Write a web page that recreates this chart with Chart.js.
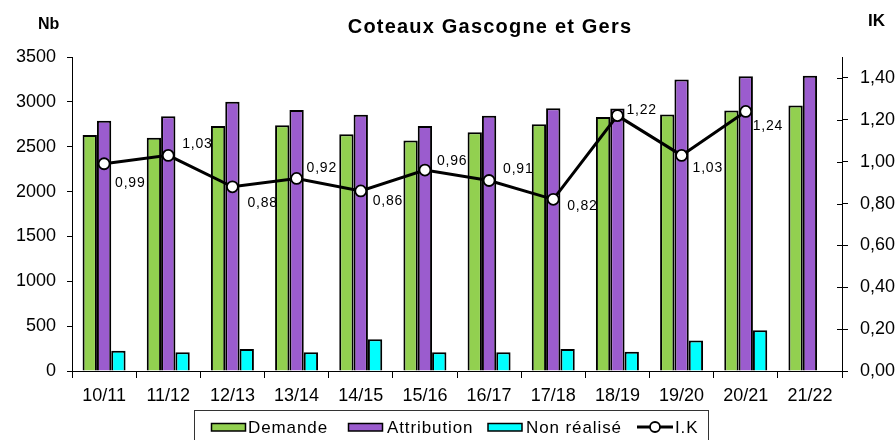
<!DOCTYPE html>
<html>
<head>
<meta charset="utf-8">
<script src="https://cdn.jsdelivr.net/npm/chart.js@4.4.0/dist/chart.umd.min.js"></script>
<style>
html,body{margin:0;padding:0;background:#fff;}
#wrap{width:895px;height:440px;position:relative;}
</style>
</head>
<body>
<div id="wrap"><canvas id="c" width="895" height="440"></canvas></div>
<script>
const categories = ['10/11','11/12','12/13','13/14','14/15','15/16','16/17','17/18','18/19','19/20','20/21','21/22'];
const demande = [2630, 2600, 2730, 2740, 2640, 2570, 2660, 2750, 2830, 2860, 2905, 2960];
const attribution = [2790, 2840, 3000, 2910, 2855, 2730, 2845, 2930, 2925, 3250, 3285, 3290];
const nonRealise = [225, 210, 245, 210, 355, 210, 210, 245, 215, 340, 455, null];
const ik = [0.99, 1.03, 0.88, 0.92, 0.86, 0.96, 0.91, 0.82, 1.22, 1.03, 1.24, null];
const seriesNames = ['Demande', 'Attribution', 'Non réalisé', 'I.K'];
const titleText = 'Coteaux Gascogne et Gers';
const leftAxisTitle = 'Nb';
const rightAxisTitle = 'IK';

const FONT = "'Liberation Sans', Arial, sans-serif";
const GREEN = '#92D050', PURPLE = '#9B5CCE', CYAN = '#00FFFF';
const fmtIK = v => v.toFixed(2).replace('.', ',');

// label placement relative to each IK point: [dx to text left, dy to text middle]
const labelPlacement = [[11,19],[14,-11],[15,16],[10,-10],[12,10],[12,-9],[14,-11],[14,7],[9,-5],[11,13],[7,15]];

const decor = {
  id: 'decor',
  afterDatasetsDraw(chart) {
    const ctx = chart.ctx;
    const meta = chart.getDatasetMeta(3);
    ctx.save();
    ctx.font = '14px ' + FONT;
    ctx.letterSpacing = '0.8px';
    ctx.fillStyle = '#000';
    ctx.textAlign = 'left';
    ctx.textBaseline = 'middle';
    meta.data.forEach((pt, i) => {
      const v = ik[i];
      if (v === null || v === undefined) return;
      const off = labelPlacement[i] || [10, -10];
      ctx.fillText(fmtIK(v), pt.x + off[0], pt.y + off[1]);
    });
    ctx.restore();
  },
  afterDraw(chart) {
    const ctx = chart.ctx;
    ctx.save();
    // inward ticks for right axis
    const r = chart.scales.yR;
    ctx.strokeStyle = '#000';
    ctx.lineWidth = 1;
    r.ticks.forEach(t => {
      const y = Math.round(r.getPixelForValue(t.value)) + 0.5;
      ctx.beginPath();
      ctx.moveTo(r.left - 5, y);
      ctx.lineTo(r.left, y);
      ctx.stroke();
    });
    // title
    ctx.fillStyle = '#000';
    ctx.font = 'bold 20px ' + FONT;
    ctx.letterSpacing = '1.2px';
    ctx.textAlign = 'center';
    ctx.textBaseline = 'alphabetic';
    ctx.fillText(titleText, 490, 33);
    ctx.letterSpacing = '0px';
    ctx.textAlign = 'left';
    ctx.font = 'bold 16px ' + FONT;
    ctx.fillText(leftAxisTitle, 38, 29);
    ctx.font = 'bold 17px ' + FONT;
    ctx.fillText(rightAxisTitle, 868, 26);
    // legend
    ctx.strokeStyle = '#333';
    ctx.lineWidth = 1;
    ctx.strokeRect(194.5, 410.5, 514, 40);
    const items = [
      {x: 211.5, color: GREEN, text: seriesNames[0], tx: 248},
      {x: 348.5, color: PURPLE, text: seriesNames[1], tx: 387},
      {x: 488, color: CYAN, text: seriesNames[2], tx: 526},
    ];
    ctx.font = '17px ' + FONT;
    ctx.letterSpacing = '0.9px';
    items.forEach(it => {
      ctx.fillStyle = it.color;
      ctx.fillRect(it.x, 423.5, 34, 7.5);
      ctx.strokeStyle = '#000';
      ctx.lineWidth = 1.5;
      ctx.strokeRect(it.x, 423.5, 34, 7.5);
      ctx.fillStyle = '#000';
      ctx.fillText(it.text, it.tx, 433);
    });
    ctx.strokeStyle = '#000';
    ctx.lineWidth = 3;
    ctx.beginPath();
    ctx.moveTo(637, 427);
    ctx.lineTo(673, 427);
    ctx.stroke();
    ctx.beginPath();
    ctx.arc(655, 427, 5, 0, Math.PI * 2);
    ctx.fillStyle = '#fff';
    ctx.fill();
    ctx.lineWidth = 1.8;
    ctx.stroke();
    ctx.fillStyle = '#000';
    ctx.fillText(seriesNames[3], 675, 433);
    ctx.restore();
  }
};

new Chart(document.getElementById('c'), {
  data: {
    labels: categories,
    datasets: [
      {type: 'bar', label: seriesNames[0], data: demande, backgroundColor: GREEN, borderColor: '#000', borderWidth: 2, yAxisID: 'y', order: 1},
      {type: 'bar', label: seriesNames[1], data: attribution, backgroundColor: PURPLE, borderColor: '#000', borderWidth: 2, yAxisID: 'y', order: 1},
      {type: 'bar', label: seriesNames[2], data: nonRealise, backgroundColor: CYAN, borderColor: '#000', borderWidth: 2, yAxisID: 'y', order: 1},
      {type: 'line', label: seriesNames[3], data: ik, yAxisID: 'yR', borderColor: '#000', borderWidth: 3,
       pointRadius: 5.5, pointBackgroundColor: '#fff', pointBorderColor: '#000', pointBorderWidth: 1.8,
       tension: 0, fill: false, order: 0}
    ]
  },
  options: {
    responsive: false,
    animation: false,
    events: [],
    datasets: {bar: {categoryPercentage: 0.67, barPercentage: 1.0}},
    layout: {padding: {top: 57, left: 0, right: 0, bottom: 0}},
    plugins: {legend: {display: false}, tooltip: {enabled: false}, title: {display: false}},
    scales: {
      x: {
        position: 'bottom',
        grid: {display: true, drawOnChartArea: false, offset: true, tickLength: 7, color: '#000'},
        border: {display: true, color: '#000', width: 1},
        ticks: {font: {family: FONT, size: 18}, color: '#000', padding: 7, maxRotation: 0, autoSkip: false},
        afterFit(s) { s.height = 69; }
      },
      y: {
        position: 'left',
        min: 0, max: 3500,
        grid: {display: true, drawOnChartArea: false, tickLength: 5, color: '#000'},
        border: {display: true, color: '#000', width: 1},
        ticks: {stepSize: 500, font: {family: FONT, size: 18}, color: '#000', padding: 11, callback: v => String(v)},
        afterFit(s) { s.width = 72; }
      },
      yR: {
        position: 'right',
        min: 0, max: 1.5,
        grid: {display: true, drawOnChartArea: false, tickLength: 6, color: '#000'},
        border: {display: true, color: '#000', width: 1},
        ticks: {stepSize: 0.2, includeBounds: false, font: {family: FONT, size: 18}, color: '#000', padding: 12, callback: v => fmtIK(v)},
        afterFit(s) { s.width = 53; }
      }
    }
  },
  plugins: [decor]
});
</script>
</body>
</html>
